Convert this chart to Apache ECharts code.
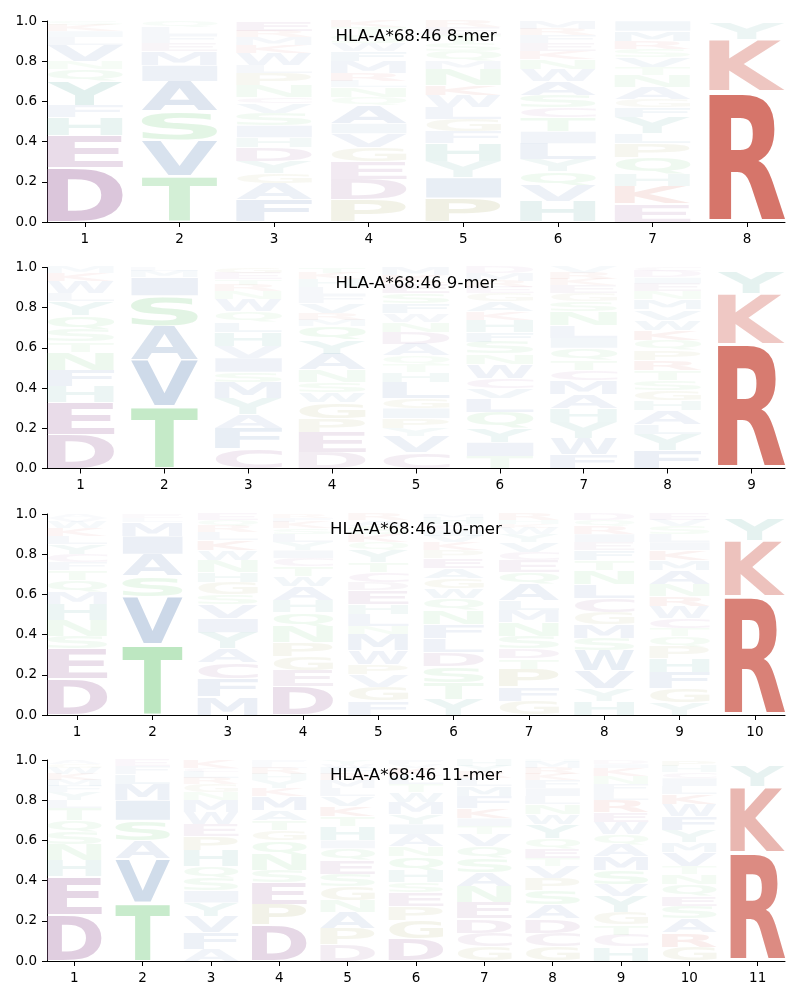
<!DOCTYPE html>
<html><head><meta charset="utf-8">
<script src="https://cdn.jsdelivr.net/npm/echarts@6/dist/echarts.min.js"></script>
<style>html,body{margin:0;padding:0;background:#fff}#c{width:800px;height:1000px}</style>
</head><body><div id="c"></div>
<script>
// ---------- DATA ----------
const titles = ['HLA-A*68:46 8-mer', 'HLA-A*68:46 9-mer', 'HLA-A*68:46 10-mer', 'HLA-A*68:46 11-mer'];
const yTickValues = [0, 0.2, 0.4, 0.6, 0.8, 1.0];

// each position: letters stacked bottom -> top as [letter, frequency]
const logo8 = [
  [['D',.27],['E',.16],['H',.09],['F',.06],['Y',.12],['Q',.06],['N',.04],['V',.08],['L',.04],['I',.03],['K',.03],['S',.02]],
  [['T',.23],['V',.18],['S',.14],['A',.15],['I',.08],['M',.07],['E',.04],['F',.04],['L',.04],['Q',.03]],
  [['F',.11],['A',.08],['G',.05],['Y',.06],['D',.07],['H',.05],['I',.06],['S',.06],['V',.05],['C',.03],['N',.06],['P',.06],['L',.04],['W',.06],['K',.04],['M',.04],['R',.03],['E',.05]],
  [['P',.11],['D',.10],['E',.09],['G',.07],['V',.07],['I',.05],['A',.09],['Q',.04],['N',.05],['L',.03],['R',.04],['M',.06],['F',.05],['W',.04],['S',.04],['T',.04],['K',.03]],
  [['P',.12],['I',.10],['Y',.08],['H',.09],['F',.06],['G',.06],['L',.06],['W',.06],['K',.05],['N',.08],['M',.04],['Q',.05],['S',.04],['T',.04],['E',.04],['R',.03]],
  [['H',.10],['V',.08],['Q',.07],['Y',.06],['L',.08],['I',.06],['T',.07],['C',.05],['S',.06],['A',.07],['W',.06],['N',.05],['K',.04],['E',.04],['F',.04],['R',.03],['M',.04]],
  [['E',.09],['K',.09],['H',.06],['Q',.08],['P',.07],['L',.05],['Y',.08],['F',.05],['G',.04],['A',.06],['N',.06],['T',.04],['V',.05],['S',.04],['R',.04],['M',.05],['I',.05]],
  [['R',.65],['K',.26],['Y',.08]]
];
const logo9 = [
  [['D',.17],['E',.16],['H',.08],['F',.08],['N',.09],['T',.05],['S',.06],['Q',.07],['Y',.07],['L',.04],['W',.06],['K',.04],['M',.03]],
  [['T',.31],['V',.23],['A',.17],['S',.15],['I',.09],['M',.03],['L',.02]],
  [['C',.10],['F',.10],['A',.07],['Y',.08],['M',.08],['S',.05],['I',.07],['V',.06],['H',.07],['L',.05],['Q',.05],['W',.06],['N',.04],['R',.03],['T',.03],['E',.03],['G',.03]],
  [['D',.08],['E',.10],['P',.07],['G',.08],['W',.05],['S',.05],['N',.06],['A',.08],['Y',.07],['Q',.07],['M',.03],['R',.03],['V',.05],['F',.04],['L',.04],['H',.04],['K',.03],['T',.03]],
  [['C',.08],['V',.08],['Y',.04],['P',.05],['I',.05],['G',.05],['L',.08],['H',.05],['T',.04],['Q',.04],['A',.06],['D',.06],['N',.05],['W',.04],['F',.05],['S',.05],['E',.05],['K',.04],['M',.04]],
  [['T',.06],['I',.07],['Y',.07],['Q',.08],['L',.07],['V',.05],['C',.05],['W',.07],['N',.05],['S',.06],['F',.05],['H',.06],['K',.04],['A',.05],['G',.04],['E',.03],['R',.03],['M',.04],['D',.03]],
  [['F',.07],['W',.08],['Y',.08],['H',.07],['A',.07],['M',.07],['C',.05],['T',.05],['Q',.06],['I',.05],['L',.06],['N',.07],['S',.05],['G',.04],['E',.04],['K',.03],['R',.03],['V',.03]],
  [['F',.09],['Y',.08],['L',.05],['A',.07],['H',.05],['G',.05],['S',.05],['T',.05],['R',.05],['P',.05],['Q',.05],['K',.05],['W',.05],['V',.05],['M',.05],['N',.04],['E',.04],['I',.03],['D',.03],['C',.02]],
  [['R',.62],['K',.25],['Y',.11]]
];
const logo10 = [
  [['D',.18],['E',.15],['S',.06],['N',.08],['H',.08],['M',.06],['Q',.06],['T',.05],['F',.04],['C',.04],['Y',.05],['L',.04],['K',.04],['W',.03],['V',.02],['A',.02]],
  [['T',.35],['V',.24],['S',.10],['A',.11],['I',.09],['M',.07],['L',.02],['E',.02]],
  [['M',.09],['F',.09],['C',.08],['A',.07],['Y',.08],['I',.07],['V',.07],['S',.05],['G',.06],['H',.05],['N',.06],['W',.05],['K',.05],['L',.04],['R',.03],['Q',.03],['E',.03]],
  [['D',.14],['E',.08],['G',.07],['P',.07],['N',.08],['Q',.07],['H',.06],['A',.07],['W',.05],['T',.05],['C',.04],['I',.04],['Y',.04],['L',.04],['S',.03],['K',.03],['F',.02],['R',.02]],
  [['F',.07],['G',.07],['V',.06],['P',.05],['W',.07],['M',.08],['N',.04],['L',.06],['H',.05],['E',.07],['D',.04],['C',.05],['T',.05],['Y',.06],['Q',.04],['K',.04],['S',.04],['A',.03],['R',.03]],
  [['Y',.08],['T',.08],['S',.08],['D',.07],['L',.07],['F',.07],['N',.07],['Q',.06],['W',.05],['G',.05],['A',.05],['E',.05],['P',.04],['K',.04],['V',.03],['I',.03],['C',.03],['H',.03],['M',.02]],
  [['G',.07],['F',.07],['P',.09],['T',.05],['D',.05],['S',.06],['N',.07],['M',.06],['L',.05],['A',.08],['Q',.06],['E',.06],['C',.04],['V',.05],['Y',.04],['W',.03],['K',.02],['H',.02],['R',.03]],
  [['H',.07],['Y',.06],['V',.09],['W',.10],['S',.06],['M',.07],['G',.06],['C',.07],['L',.07],['N',.07],['T',.05],['F',.05],['E',.04],['I',.04],['R',.04],['Q',.03],['D',.03]],
  [['Y',.06],['G',.07],['F',.08],['H',.07],['P',.06],['Q',.05],['T',.04],['C',.05],['W',.06],['R',.05],['N',.06],['A',.07],['M',.05],['K',.05],['I',.04],['L',.04],['S',.04],['V',.03],['E',.03]],
  [['R',.59],['K',.28],['Y',.11]]
];
const logo11 = [
  [['D',.23],['E',.19],['H',.08],['N',.08],['S',.06],['Q',.06],['T',.06],['L',.04],['Y',.04],['F',.03],['M',.03],['K',.03],['W',.03],['G',.02],['A',.02]],
  [['T',.29],['V',.22],['A',.09],['S',.10],['I',.10],['M',.08],['L',.05],['F',.04],['E',.03]],
  [['A',.06],['F',.08],['V',.08],['Y',.07],['I',.06],['S',.06],['Q',.06],['H',.08],['P',.07],['E',.06],['W',.06],['M',.06],['N',.04],['G',.04],['R',.03],['L',.03],['C',.02],['K',.04]],
  [['D',.18],['P',.10],['E',.11],['S',.06],['N',.08],['Q',.07],['G',.05],['T',.05],['A',.05],['M',.07],['K',.04],['Y',.04],['H',.03],['R',.03],['L',.02],['F',.02]],
  [['D',.08],['P',.08],['A',.08],['N',.06],['G',.07],['S',.06],['E',.07],['Q',.06],['I',.04],['H',.07],['T',.05],['K',.05],['V',.05],['L',.04],['M',.04],['R',.03],['F',.03],['W',.02],['Y',.02]],
  [['D',.11],['G',.09],['P',.07],['E',.07],['S',.05],['H',.06],['Q',.07],['N',.05],['A',.06],['I',.05],['Y',.05],['M',.06],['W',.05],['T',.04],['L',.04],['K',.04],['V',.02],['F',.02]],
  [['G',.07],['C',.07],['D',.07],['E',.08],['N',.08],['A',.07],['S',.07],['Q',.06],['V',.06],['T',.04],['I',.04],['K',.05],['F',.06],['M',.05],['L',.04],['R',.03],['Y',.03],['H',.03]],
  [['G',.07],['C',.07],['D',.07],['A',.07],['S',.07],['P',.06],['V',.06],['T',.04],['E',.05],['Q',.05],['Y',.07],['W',.05],['N',.05],['L',.04],['I',.04],['F',.04],['K',.03],['R',.03],['M',.03],['H',.01]],
  [['H',.07],['C',.06],['T',.05],['G',.06],['Y',.08],['V',.06],['S',.07],['M',.07],['A',.06],['Q',.05],['W',.06],['E',.05],['R',.06],['L',.04],['F',.04],['N',.04],['K',.04],['I',.02],['D',.02]],
  [['G',.07],['R',.07],['A',.07],['S',.06],['E',.05],['Q',.06],['N',.05],['T',.04],['V',.07],['M',.05],['Y',.06],['F',.07],['W',.06],['K',.05],['L',.04],['I',.04],['C',.03],['H',.03],['P',.03]],
  [['R',.54],['K',.33],['Y',.10]]
];

// ---------- STYLE ----------
const panels = [logo8, logo9, logo10, logo11];
const GRID_TOPS = [21, 267.5, 514, 760];
const GRID_H = 201;
const LETTER_W = 0.8, VPAD = 0.05;
const FONT = 'bold 100px "DejaVu Sans"';
const groupColor = {
  D:[162,109,162], E:[162,109,162], C:[170,120,170],
  R:[210,105,93], K:[210,105,93],
  H:[100,175,165], Y:[100,175,165],
  S:[125,208,133], T:[125,208,133], N:[125,208,133], Q:[125,208,133],
  G:[175,175,110], P:[175,175,110],
  A:[110,145,190], V:[110,145,190], I:[110,145,190], L:[110,145,190], M:[110,145,190], F:[110,145,190], W:[110,145,190]
};
function fillOf(L, h) {
  const a = Math.min(0.92, 0.015 + 1.4 * h);
  const c = groupColor[L];
  return 'rgba(' + c[0] + ',' + c[1] + ',' + c[2] + ',' + a.toFixed(3) + ')';
}

// glyph ink metrics (textBaseline middle, as zrender draws)
const ctx = document.createElement('canvas').getContext('2d');
ctx.font = FONT; ctx.textBaseline = 'middle'; ctx.textAlign = 'left';
const metrics = {};
Object.keys(groupColor).forEach(L => {
  const m = ctx.measureText(L);
  metrics[L] = {
    left: m.actualBoundingBoxLeft,
    w: m.actualBoundingBoxLeft + m.actualBoundingBoxRight,
    asc: m.actualBoundingBoxAscent,
    h: m.actualBoundingBoxAscent + m.actualBoundingBoxDescent
  };
});

const panelItems = panels.map(cols => {
  const items = [];
  cols.forEach((col, i) => {
    let y = 0;
    col.forEach(([L, h]) => { items.push({ x: i + 1, y0: y, y1: y + h, h: h, L: L }); y += h; });
  });
  return items;
});

function makeRender(items) {
  return function (params, api) {
    const it = items[params.dataIndex];
    const pad = it.h * VPAD / 2;
    const p0 = api.coord([it.x - LETTER_W / 2, it.y1 - pad]);
    const p1 = api.coord([it.x + LETTER_W / 2, it.y0 + pad]);
    const w = p1[0] - p0[0], hh = p1[1] - p0[1];
    if (hh <= 0.2) return null;
    const m = metrics[it.L];
    const sx = w / m.w, sy = hh / m.h;
    return {
      type: 'text', silent: true,
      x: p0[0] + m.left * sx, y: p0[1] + m.asc * sy,
      scaleX: sx, scaleY: sy,
      style: { text: it.L, font: FONT, fill: fillOf(it.L, it.h), align: 'left', verticalAlign: 'middle' }
    };
  };
}

const chart = echarts.init(document.getElementById('c'), null, { renderer: 'canvas' });
const labelStyle = { color: '#000', fontSize: 13.5, fontFamily: 'DejaVu Sans' };
chart.setOption({
  animation: false,
  backgroundColor: '#fff',
  grid: GRID_TOPS.map(t => ({ left: 47, right: 15, top: t, height: GRID_H })),
  xAxis: panels.map((cols, k) => {
    const pos = cols.map((_, i) => i + 1);
    return {
      type: 'value', gridIndex: k, min: 0.6, max: cols.length + 0.4,
      axisLine: { show: true, onZero: false, lineStyle: { color: '#000', width: 1 } },
      axisTick: { show: true, length: 5, lineStyle: { color: '#000' }, customValues: pos },
      axisLabel: Object.assign({ customValues: pos, margin: 10 }, labelStyle),
      splitLine: { show: false }
    };
  }),
  yAxis: panels.map((cols, k) => ({
    type: 'value', gridIndex: k, min: 0, max: 1, interval: 0.2,
    axisLine: { show: true, lineStyle: { color: '#000', width: 1 } },
    axisTick: { show: true, length: 5, lineStyle: { color: '#000' }, customValues: yTickValues },
    axisLabel: Object.assign({ customValues: yTickValues, margin: 10, formatter: v => v.toFixed(1) }, labelStyle),
    splitLine: { show: false }
  })),
  graphic: titles.map((t, k) => ({
    type: 'text', x: 416, y: GRID_TOPS[k] + 16, z: 100,
    style: { text: t, font: '16.6px "DejaVu Sans"', fill: '#000', align: 'center', verticalAlign: 'middle' }
  })),
  series: panelItems.map((items, k) => ({
    type: 'custom', xAxisIndex: k, yAxisIndex: k, clip: false, silent: true,
    data: items.map(it => [it.x, it.y0, it.y1]),
    encode: { x: 0, y: [1, 2] },
    renderItem: makeRender(items)
  }))
});
</script></body></html>
